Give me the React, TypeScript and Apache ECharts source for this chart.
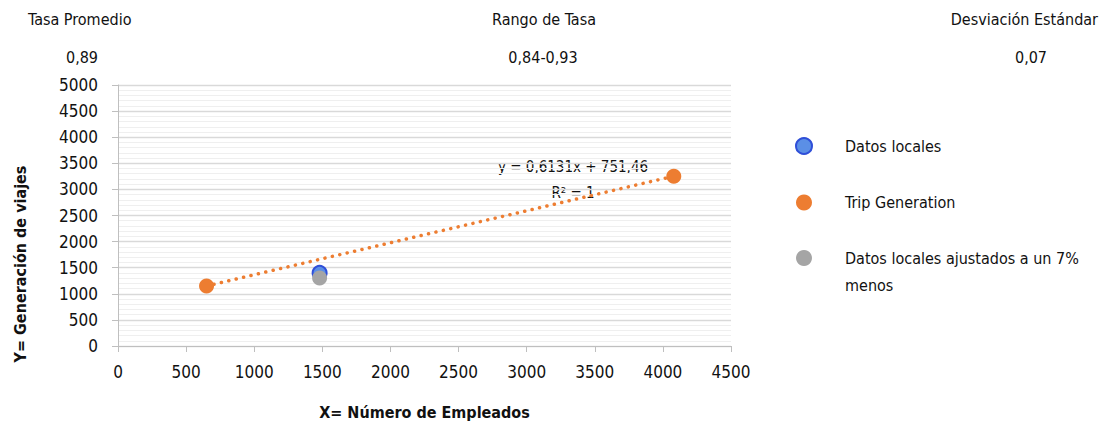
import React, { useEffect, useRef } from "react";
import * as echarts from "echarts";

const FONT = '"DejaVu Sans Condensed", "DejaVu Sans", sans-serif';

const seriesNames = ["Datos locales", "Trip Generation", "Datos locales ajustados a un 7% menos"];
const localData: [number, number][] = [[1480, 1400]];
const tripData: [number, number][] = [[650, 1150], [4080, 3253]];
const adjustedData: [number, number][] = [[1480, 1302]];
const trendX = [650, 4080];
const trendY = [1150, 3253];
const headerTitles = ["Tasa Promedio", "Rango de Tasa", "Desviación Estándar"];
const headerValues = ["0,89", "0,84-0,93", "0,07"];
const equationText = "y = 0,6131x + 751,46";
const r2Text = "R² = 1";

export default function App() {
  const ref = useRef<HTMLDivElement>(null);
  useEffect(() => {
    document.body.style.margin = "0";
    if (!ref.current) return;
    const chart = echarts.init(ref.current, undefined, { renderer: "svg" });
    const txt = (x: number, y: number, text: string, align: string, extra: any = {}) => ({
      type: "text",
      x,
      y,
      style: {
        text,
        fill: "#111",
        font: `16px ${FONT}`,
        textAlign: align,
        textVerticalAlign: "middle",
        ...extra,
      },
    });
    chart.setOption({
      animation: false,
      backgroundColor: "#fff",
      textStyle: { fontFamily: FONT },
      grid: { left: 118, right: 376, top: 85, bottom: 79 },
      xAxis: {
        type: "value",
        min: 0,
        max: 4500,
        interval: 500,
        name: "X= Número de Empleados",
        nameLocation: "middle",
        nameGap: 58,
        nameTextStyle: { fontFamily: FONT, fontSize: 16, fontWeight: "bold", color: "#111" },
        axisLine: { show: true, lineStyle: { color: "#bfbfbf", width: 1 } },
        axisTick: { show: true, length: 6, lineStyle: { color: "#bfbfbf" } },
        axisLabel: { color: "#111", fontSize: 17, fontFamily: FONT, margin: 17, formatter: (v: number) => String(v) },
        splitLine: { show: false },
      },
      yAxis: {
        type: "value",
        min: 0,
        max: 5000,
        interval: 500,
        axisLine: { show: true, lineStyle: { color: "#bfbfbf", width: 1 } },
        axisTick: { show: true, length: 6, lineStyle: { color: "#bfbfbf" } },
        axisLabel: { color: "#111", fontSize: 17, fontFamily: FONT, margin: 20, formatter: (v: number) => String(v) },
        splitLine: { show: true, lineStyle: { color: "#d9d9d9", width: 1.3 } },
        minorTick: { show: false, splitNumber: 5 },
        minorSplitLine: { show: true, lineStyle: { color: "#efefef", width: 1 } },
      },
      legend: {
        orient: "vertical",
        left: 790,
        top: 132,
        itemGap: 39.5,
        itemWidth: 16,
        itemHeight: 16,
        data: seriesNames.map((n) => ({ name: n, icon: "circle" })),
        formatter: (n: string) => (n === seriesNames[2] ? "Datos locales ajustados a un 7%" : n),
        textStyle: { fontFamily: FONT, fontSize: 16, color: "#111", padding: [0, 0, 0, 28] },
      },
      series: [
        {
          name: "trend",
          type: "line",
          data: trendX.map((x, i) => [x, trendY[i]]),
          showSymbol: false,
          symbol: "none",
          silent: true,
          lineStyle: { color: "#ed7d31", width: 3.5, type: [0.1, 7.5], cap: "round" },
          z: 1,
        },
        {
          name: seriesNames[0],
          type: "scatter",
          data: localData,
          symbolSize: 14,
          itemStyle: { color: "#5b8fe6", borderColor: "#2f4fd8", borderWidth: 2, opacity: 1 },
          z: 3,
        },
        {
          name: seriesNames[1],
          type: "scatter",
          data: tripData,
          symbolSize: 15,
          itemStyle: { color: "#ed7d31", opacity: 1 },
          z: 3,
        },
        {
          name: seriesNames[2],
          type: "scatter",
          data: adjustedData,
          symbolSize: 15,
          itemStyle: { color: "#a5a5a5", opacity: 1 },
          z: 4,
        },
      ],
      graphic: [
        txt(28, 19, headerTitles[0], "left"),
        txt(82, 57, headerValues[0], "center"),
        txt(544, 19, headerTitles[1], "center"),
        txt(543, 57, headerValues[1], "center"),
        txt(1098, 19, headerTitles[2], "right"),
        txt(1031, 57, headerValues[2], "center"),
        txt(845, 285, "menos", "left"),
        txt(573, 167, equationText, "center", { font: `15px ${FONT}` }),
        txt(573, 193, r2Text, "center", { font: `15px ${FONT}` }),
        {
          type: "text",
          x: 20,
          y: 264,
          rotation: Math.PI / 2,
          style: {
            text: "Y= Generación de viajes",
            fill: "#111",
            font: `bold 16px ${FONT}`,
            textAlign: "center",
            textVerticalAlign: "middle",
          },
        },
      ],
    });
    return () => {
      chart.dispose();
    };
  }, []);
  return <div ref={ref} style={{ width: 1107, height: 425 }} />;
}
